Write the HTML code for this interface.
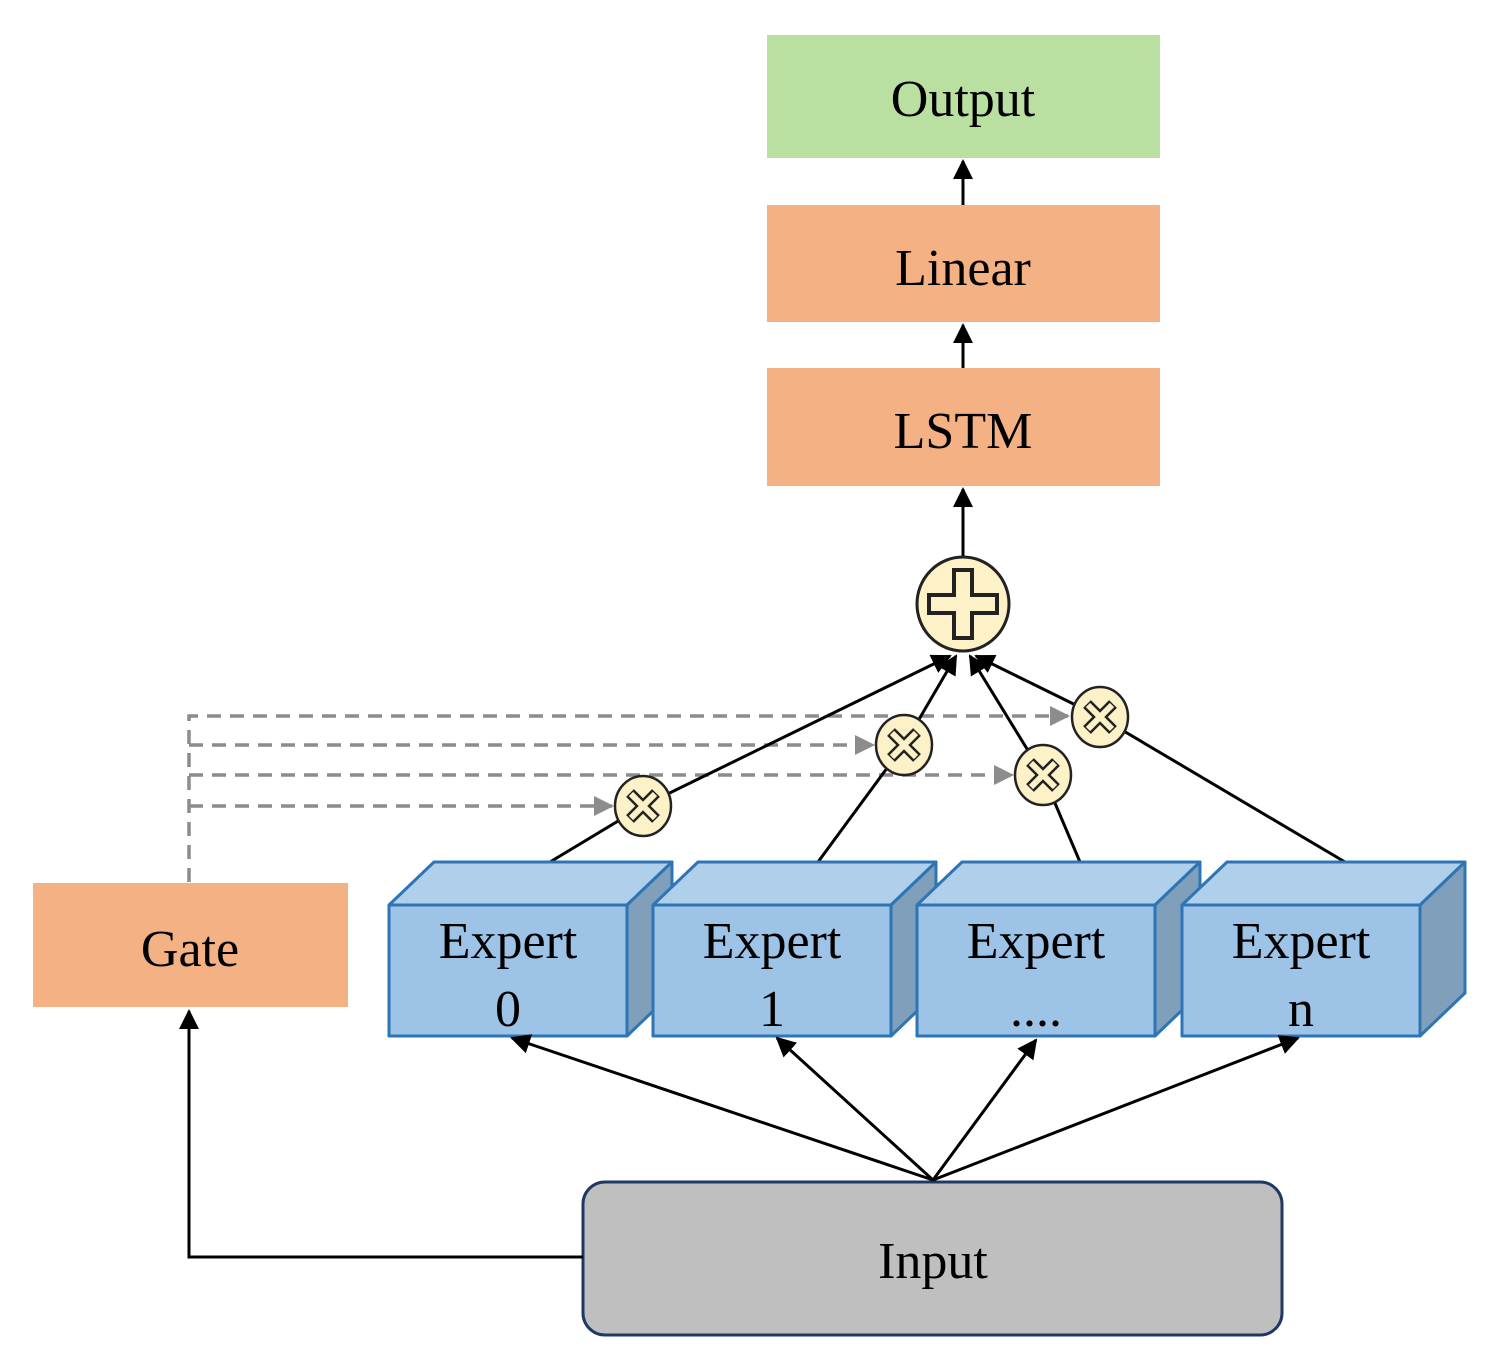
<!DOCTYPE html>
<html><head><meta charset="utf-8"><style>html,body{margin:0;padding:0;background:#fff}svg{display:block}</style></head>
<body>
<svg width="1500" height="1371" viewBox="0 0 1500 1371" xmlns="http://www.w3.org/2000/svg" font-family="'Liberation Serif', serif">
<defs>
<marker id="a" viewBox="0 0 10 10" refX="9" refY="5" markerWidth="8" markerHeight="8" markerUnits="userSpaceOnUse" orient="auto"><path d="M0,0 L10,5 L0,10z" fill="#000"/></marker>
<marker id="ab" viewBox="0 0 10 10" refX="9" refY="5" markerWidth="20" markerHeight="20" markerUnits="userSpaceOnUse" orient="auto"><path d="M0,0 L10,5 L0,10z" fill="#000"/></marker>
<marker id="g" viewBox="0 0 10 10" refX="9" refY="5" markerWidth="20" markerHeight="20" markerUnits="userSpaceOnUse" orient="auto"><path d="M0,0 L10,5 L0,10z" fill="#8c8c8c"/></marker>
<g id="x"><ellipse cx="0" cy="0" rx="28" ry="30" fill="#fdf1c8" stroke="#222" stroke-width="2.5"/>
<path d="M-13,-13 L13,13 M13,-13 L-13,13" stroke="#222" stroke-width="11" stroke-linecap="butt"/>
<path d="M-12,-12 L12,12 M12,-12 L-12,12" stroke="#fdf1c8" stroke-width="6"/></g>
</defs>
<!-- top boxes -->
<rect x="767" y="35" width="393" height="123" fill="#b9e0a0"/>
<text x="963" y="116" font-size="52" text-anchor="middle">Output</text>
<rect x="767" y="205" width="393" height="117" fill="#f4b183"/>
<text x="963" y="285" font-size="52" text-anchor="middle">Linear</text>
<rect x="767" y="368" width="393" height="118" fill="#f4b183"/>
<text x="963" y="448" font-size="52" text-anchor="middle">LSTM</text>
<line x1="963" y1="205" x2="963" y2="161" stroke="#000" stroke-width="3" marker-end="url(#ab)"/>
<line x1="963" y1="368" x2="963" y2="325" stroke="#000" stroke-width="3" marker-end="url(#ab)"/>
<line x1="963" y1="557" x2="963" y2="489" stroke="#000" stroke-width="3" marker-end="url(#ab)"/>
<!-- gate -->
<rect x="33" y="883" width="315" height="124" fill="#f4b183"/>
<text x="190" y="966" font-size="52" text-anchor="middle">Gate</text>
<!-- dashed -->
<g stroke="#8c8c8c" stroke-width="3.5" stroke-dasharray="14,9" fill="none">
<path d="M189,882 L189,716 L1068,716" marker-end="url(#g)"/>
<path d="M189,745 L873,745" marker-end="url(#g)"/>
<path d="M189,775 L1012,775" marker-end="url(#g)"/>
<path d="M189,806 L612,806" marker-end="url(#g)"/>
</g>
<!-- expert to plus lines -->
<g stroke="#000" stroke-width="3" fill="none">
<line x1="550" y1="862" x2="643" y2="806"/>
<line x1="643" y1="806" x2="950" y2="656" marker-end="url(#ab)"/>
<line x1="818" y1="862" x2="904" y2="745"/>
<line x1="904" y1="745" x2="956" y2="656" marker-end="url(#ab)"/>
<line x1="1080" y1="862" x2="1043" y2="775"/>
<line x1="1043" y1="775" x2="970" y2="656" marker-end="url(#ab)"/>
<line x1="1345" y1="862" x2="1100" y2="717"/>
<line x1="1100" y1="717" x2="976" y2="656" marker-end="url(#ab)"/>
</g>
<use href="#x" x="643" y="806"/>
<use href="#x" x="904" y="745"/>
<use href="#x" x="1043" y="775"/>
<use href="#x" x="1100" y="717"/>
<!-- plus -->
<ellipse cx="963" cy="604" rx="46" ry="47" fill="#fdf1c8" stroke="#222" stroke-width="3"/>
<path d="M954,570 h18 v25 h25 v18 h-25 v25 h-18 v-25 h-25 v-18 h25z" fill="#fdf1c8" stroke="#222" stroke-width="4"/>
<!-- experts -->
<g stroke="#2e75b6" stroke-width="3" stroke-linejoin="round">
<g transform="translate(389,0)">
<path d="M0,905 L45,862 L283,862 L238,905z" fill="#afcfea"/><path d="M238,905 L283,862 L283,993 L238,1036z" fill="#7f9fba"/><rect x="0" y="905" width="238" height="131" fill="#9dc3e6"/></g>
<g transform="translate(653,0)">
<path d="M0,905 L45,862 L283,862 L238,905z" fill="#afcfea"/><path d="M238,905 L283,862 L283,993 L238,1036z" fill="#7f9fba"/><rect x="0" y="905" width="238" height="131" fill="#9dc3e6"/></g>
<g transform="translate(917,0)">
<path d="M0,905 L45,862 L283,862 L238,905z" fill="#afcfea"/><path d="M238,905 L283,862 L283,993 L238,1036z" fill="#7f9fba"/><rect x="0" y="905" width="238" height="131" fill="#9dc3e6"/></g>
<g transform="translate(1182,0)">
<path d="M0,905 L45,862 L283,862 L238,905z" fill="#afcfea"/><path d="M238,905 L283,862 L283,993 L238,1036z" fill="#7f9fba"/><rect x="0" y="905" width="238" height="131" fill="#9dc3e6"/></g>
</g>
<g font-size="52" text-anchor="middle">
<text x="508" y="958">Expert</text><text x="508" y="1026">0</text>
<text x="772" y="958">Expert</text><text x="772" y="1026">1</text>
<text x="1036" y="958">Expert</text><text x="1036" y="1026">....</text>
<text x="1301" y="958">Expert</text><text x="1301" y="1026">n</text>
</g>
<!-- input -->
<rect x="583" y="1182" width="699" height="153" rx="22" fill="#bfbfbf" stroke="#1f3864" stroke-width="3"/>
<text x="933" y="1278" font-size="52" text-anchor="middle">Input</text>
<g stroke="#000" stroke-width="3" fill="none">
<line x1="933" y1="1180" x2="512" y2="1038" marker-end="url(#ab)"/>
<line x1="933" y1="1180" x2="777" y2="1038" marker-end="url(#ab)"/>
<line x1="933" y1="1180" x2="1036" y2="1040" marker-end="url(#ab)"/>
<line x1="933" y1="1180" x2="1298" y2="1038" marker-end="url(#ab)"/>
<path d="M583,1257 L189,1257 L189,1011" marker-end="url(#ab)"/>
</g>
</svg>
</body></html>
